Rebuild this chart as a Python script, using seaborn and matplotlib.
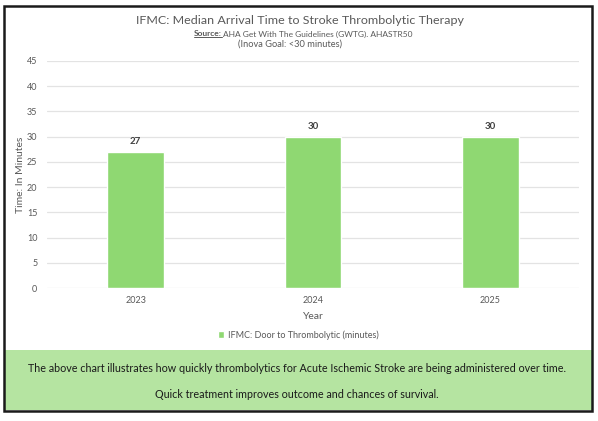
import matplotlib.pyplot as plt
import seaborn as sns
import pandas as pd
from matplotlib.patches import Rectangle, Patch
from matplotlib.lines import Line2D

years = ['2023', '2024', '2025']
minutes = [27, 30, 30]
series_name = 'IFMC: Door to Thrombolytic (minutes)'
y_ticks = [0, 5, 10, 15, 20, 25, 30, 35, 40, 45]

bar_color = '#8fd872'
band_color = '#b5e4a1'
gray = '#595959'

W, H = 598, 421

sns.set_style('white')
plt.rcParams['font.family'] = ['Lato', 'DejaVu Sans']

fig = plt.figure(figsize=(W / 100, H / 100), dpi=100)
ax = fig.add_axes([47 / W, 1 - 288 / H, (579 - 47) / W, (288 - 61) / H])


def fit(txt, width_px):
    # shrink or grow a text so it spans the width seen in the reference
    fig.canvas.draw()
    w = txt.get_window_extent().width
    txt.set_fontsize(txt.get_fontsize() * width_px / w)


df = pd.DataFrame({'Year': years, 'Minutes': minutes})
sns.barplot(data=df, x='Year', y='Minutes', color=bar_color, width=0.32,
            saturation=1, ax=ax, zorder=3)

ax.set_ylim(0, 45)
ax.set_yticks(y_ticks)
ax.yaxis.grid(True, color='#e3e3e3', linewidth=0.9, zorder=0)
for s in ax.spines.values():
    s.set_visible(False)
ax.tick_params(axis='both', length=0, labelsize=6.5, labelcolor=gray, pad=6)
ax.tick_params(axis='y', pad=7)
ax.set_xlabel('Year', fontsize=7.5, color=gray, labelpad=5)
ax.set_ylabel('Time: In Minutes', fontsize=7.5, color=gray)
ax.yaxis.set_label_coords((25 - 47) / (579 - 47), 0.5)

for i, v in enumerate(minutes):
    ax.text(i, v + 1.2, str(v), ha='center', va='bottom', fontsize=7,
            fontweight='bold', color='#404040')

# titles
t1 = fig.text(300 / W, 1 - 20 / H, 'IFMC: Median Arrival Time to Stroke Thrombolytic Therapy',
              ha='center', va='center', fontsize=10, color=gray)
fit(t1, 327)
src = fig.text(194 / W, 1 - 34 / H, 'Source:', ha='left', va='center', fontsize=6.0,
               fontweight='bold', color=gray)
rest = fig.text(222 / W, 1 - 34 / H, 'AHA Get With The Guidelines (GWTG). AHASTR50',
                ha='left', va='center', fontsize=6.0, color=gray)
t3 = fig.text(290 / W, 1 - 44 / H, '(Inova Goal: <30 minutes)', ha='center', va='center',
              fontsize=6.5, color=gray)
fit(t3, 103)
fig.canvas.draw()
bb = src.get_window_extent().transformed(fig.transFigure.inverted())
rest.set_x(bb.x1 + 0.002)
fig.add_artist(Line2D([bb.x0, bb.x1], [bb.y0 + 0.001, bb.y0 + 0.001],
                      transform=fig.transFigure, color=gray, linewidth=0.7))

fig.legend(handles=[Patch(facecolor=bar_color, label=series_name)],
           loc='center', bbox_to_anchor=(298 / W, 1 - 335 / H), frameon=False,
           fontsize=6.5, labelcolor=gray, handlelength=0.7, handleheight=0.7,
           handletextpad=0.4)

# bottom band with notes
fig.add_artist(Rectangle((4 / W, 1 - 410 / H), (592 - 4) / W, (410 - 350) / H,
                         transform=fig.transFigure, facecolor=band_color,
                         edgecolor='none', zorder=0))
n1 = fig.text(297 / W, 1 - 368 / H,
              'The above chart illustrates how quickly thrombolytics for Acute Ischemic Stroke are being administered over time.',
              ha='center', va='center', fontsize=8, color='#1a1a1a')
fit(n1, 542)
n2 = fig.text(297 / W, 1 - 394 / H, 'Quick treatment improves outcome and chances of survival.',
              ha='center', va='center', fontsize=n1.get_fontsize(), color='#1a1a1a')

# outer frame
fig.add_artist(Rectangle((4 / W, 1 - 411 / H), (592 - 4) / W, (411 - 6) / H,
                         transform=fig.transFigure, facecolor='none',
                         edgecolor='#1a1a1a', linewidth=1.8, zorder=5))

fig.savefig('out.png', dpi=100)
